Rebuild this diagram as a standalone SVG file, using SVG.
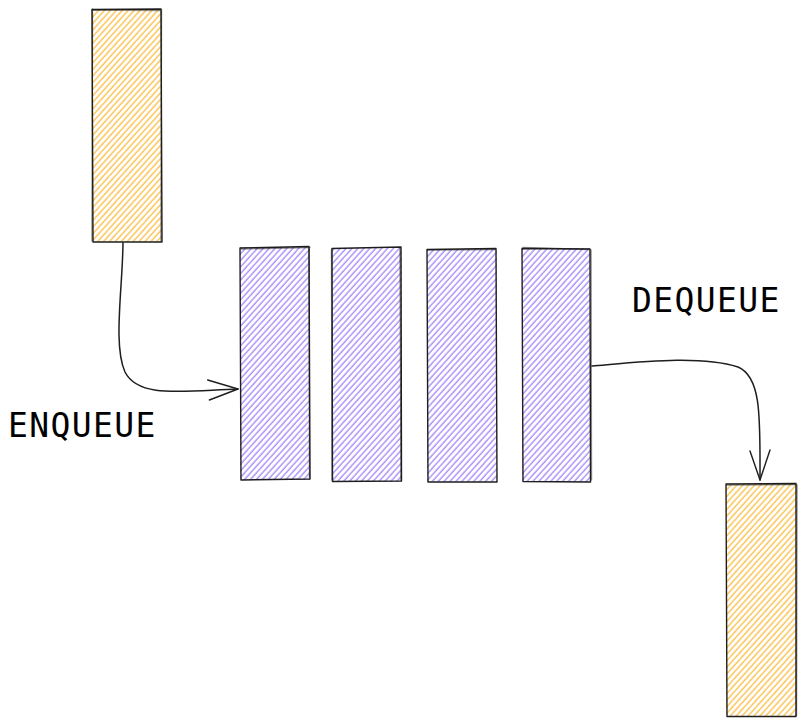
<svg xmlns="http://www.w3.org/2000/svg" width="806" height="727" viewBox="0 0 806 727">
<defs>
<pattern id="hy" patternUnits="userSpaceOnUse" width="4.4" height="10" patternTransform="rotate(42)">
<line x1="1" y1="0" x2="1" y2="10" stroke="#fcc24f" stroke-width="1.4"/>
</pattern>
<pattern id="hp" patternUnits="userSpaceOnUse" width="4.4" height="10" patternTransform="rotate(42)">
<line x1="1" y1="0" x2="1" y2="10" stroke="#a98ef9" stroke-width="1.4"/>
</pattern>
<marker id="ah" viewBox="0 0 34 24" refX="32" refY="12" markerWidth="34" markerHeight="24" markerUnits="userSpaceOnUse" orient="auto">
<path d="M2 2 L32 12 L3 22" fill="none" stroke="#1e1e1e" stroke-width="1.4" stroke-linecap="round" stroke-linejoin="round"/>
</marker>
</defs>
<style>
.hy{fill:url(#hy)}
.hp{fill:url(#hp)}
.ol{fill:none;stroke:#1e1e1e;stroke-width:1.4;stroke-linecap:round;stroke-linejoin:round}
.lbl{font-family:"DejaVu Sans Mono","Liberation Mono",monospace;font-size:33px;letter-spacing:1.4px;fill:#000}
.con{fill:none;stroke:#1e1e1e;stroke-width:1.5;stroke-linecap:round}
</style>
<g id="src">
<rect class="hy" x="92" y="9" width="70" height="233"/>
<path class="ol" d="M92 9.5 L161 9 L162 242 L93 242 Z"/>
<path class="ol" d="M93 10 L160 10.5 M161.5 10 L161 241 M92.5 9 L92 241" stroke-opacity="0.5"/>
</g>
<g id="q1">
<rect class="hp" x="240" y="247" width="70" height="233"/>
<path class="ol" d="M240 248 L309 246.5 L310 479 L241 480 Z"/>
<path class="ol" d="M241 249 L310 247.5 M309 248 L309.5 478" stroke-opacity="0.5"/>
</g>
<g id="q2">
<rect class="hp" x="332" y="248" width="70" height="234"/>
<path class="ol" d="M332 248.5 L401 247 L401.5 481 L332.5 481.5 Z"/>
<path class="ol" d="M331.5 250 L332 480 M400 248 L401 480" stroke-opacity="0.5"/>
</g>
<g id="q3">
<rect class="hp" x="427" y="249" width="70" height="233"/>
<path class="ol" d="M427 249.5 L496 248.5 L497 482 L428 482 Z"/>
<path class="ol" d="M428 250 L495.5 249.5" stroke-opacity="0.5"/>
</g>
<g id="q4">
<rect class="hp" x="522" y="248" width="68" height="234"/>
<path class="ol" d="M522 248.5 L590 249 L590.5 482 L523 481.5 Z"/>
<path class="ol" d="M523 247.5 L589 249.5 M591 250 L591.5 480" stroke-opacity="0.5"/>
</g>
<g id="dst">
<rect class="hy" x="726" y="484" width="71" height="233"/>
<path class="ol" d="M726 484 L796 483.5 L796 716.5 L727 716.5 Z"/>
<path class="ol" d="M727 485 L795 484.5 M797 485 L796.5 715" stroke-opacity="0.5"/>
</g>
<g id="connectors">
<path class="con" d="M123 243 C122.5 290, 113 345, 125 372 C138 398, 180 391, 238 389" marker-end="url(#ah)"/>
<path class="con" d="M592 366 C640 362, 700 355, 738 367 C762 377, 760 420, 760 480" marker-end="url(#ah)"/>
</g>
<g id="labels">
<text class="lbl" x="8" y="437">ENQUEUE</text>
<text class="lbl" x="632" y="312">DEQUEUE</text>
</g>
</svg>
